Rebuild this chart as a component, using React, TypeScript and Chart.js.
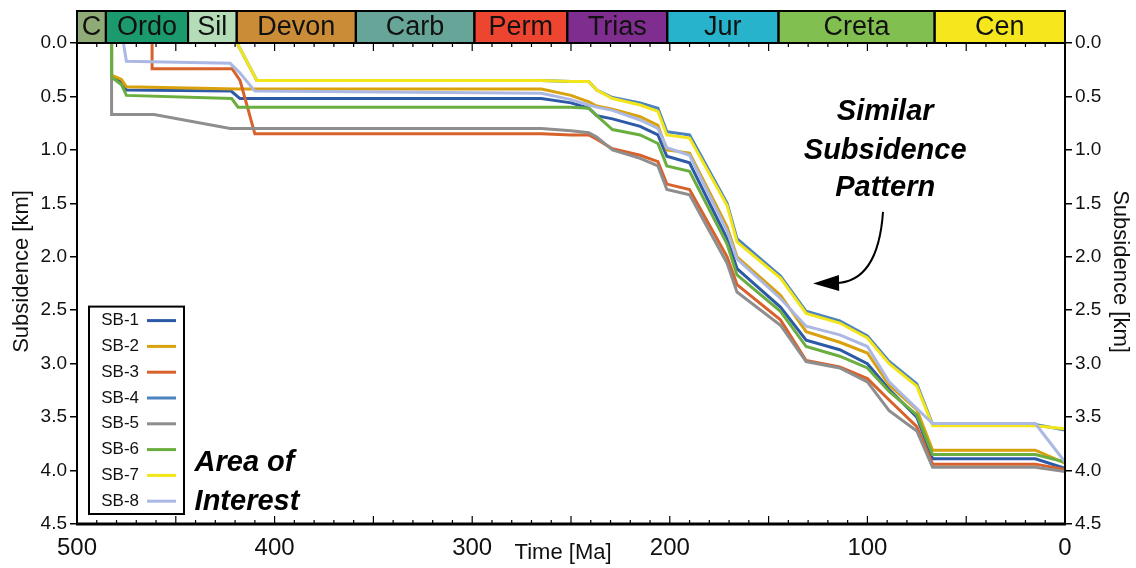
import React, { useEffect, useRef } from "react";
import { Chart, registerables } from "chart.js";

Chart.register(...registerables);

const FONT = "'Liberation Sans', Arial, Helvetica, sans-serif";

// ---- Data ----
const seriesNames = ["SB-1", "SB-2", "SB-3", "SB-4", "SB-5", "SB-6", "SB-7", "SB-8"];
const seriesColors = ["#2c5aa6", "#d9a20c", "#d8622b", "#4a83bf", "#8e8e8e", "#6aae3f", "#f2e51a", "#abb8e4"];

const lateAges = [265, 250, 241, 237, 229, 215, 206, 201.5, 190, 171, 166, 144, 131, 114, 100, 89, 75, 67, 15, 0];

const sb1Age = [482.5, 482.5, 477.5, 475, 422, 417.5, ...lateAges];
const sb1Depth = [0, 0.31, 0.36, 0.44, 0.45, 0.52, 0.52, 0.56, 0.61, 0.68, 0.71, 0.78, 0.86, 1.06, 1.12, 1.83, 2.11, 2.47, 2.78, 2.87, 3.0, 3.24, 3.5, 3.89, 3.89, 3.98];

const sb2Age = [482.5, 482.5, 477.5, 475, 419, ...lateAges];
const sb2Depth = [0, 0.3, 0.34, 0.41, 0.43, 0.43, 0.49, 0.55, 0.59, 0.62, 0.69, 0.77, 1.0, 1.03, 1.72, 2.0, 2.36, 2.7, 2.8, 2.9, 3.2, 3.43, 3.81, 3.81, 3.93];

const sb3Age = [462, 462, 421.5, 417.5, 410, ...lateAges];
const sb3Depth = [0, 0.24, 0.24, 0.35, 0.85, 0.85, 0.86, 0.86, 0.9, 0.99, 1.05, 1.11, 1.32, 1.37, 2.0, 2.26, 2.59, 2.97, 3.03, 3.14, 3.34, 3.59, 3.94, 3.94, 3.99];

const sb4Age = [419, 409, ...lateAges];
const sb4Depth = [0, 0.35, 0.35, 0.36, 0.36, 0.44, 0.51, 0.56, 0.61, 0.83, 0.86, 1.5, 1.83, 2.18, 2.51, 2.6, 2.74, 2.98, 3.19, 3.57, 3.57, 3.62];

const sb5Age = [482.5, 482.5, 461, 422.5, ...lateAges];
const sb5Depth = [0, 0.67, 0.67, 0.8, 0.8, 0.82, 0.84, 0.88, 1.0, 1.08, 1.15, 1.37, 1.42, 2.06, 2.33, 2.64, 2.98, 3.04, 3.17, 3.44, 3.63, 3.97, 3.97, 4.01];

const sb6Age = [482.5, 482.5, 477.5, 475, 421.7, 418.5, ...lateAges];
const sb6Depth = [0, 0.32, 0.39, 0.49, 0.52, 0.6, 0.6, 0.6, 0.61, 0.68, 0.81, 0.86, 0.94, 1.15, 1.2, 1.88, 2.17, 2.51, 2.84, 2.93, 3.04, 3.26, 3.48, 3.85, 3.85, 3.92];

const sb7Age = [419, 409, ...lateAges];
const sb7Depth = [0, 0.35, 0.35, 0.36, 0.36, 0.44, 0.52, 0.58, 0.64, 0.86, 0.89, 1.52, 1.86, 2.2, 2.53, 2.62, 2.76, 3.0, 3.21, 3.58, 3.58, 3.61];

const sb8Age = [476.5, 475, 422.5, 417.5, 410, ...lateAges];
const sb8Depth = [0, 0.17, 0.19, 0.28, 0.45, 0.47, 0.53, 0.58, 0.6, 0.63, 0.72, 0.8, 0.98, 1.05, 1.76, 2.02, 2.39, 2.65, 2.73, 2.84, 3.17, 3.42, 3.56, 3.56, 3.92];

const seriesAges = [sb1Age, sb2Age, sb3Age, sb4Age, sb5Age, sb6Age, sb7Age, sb8Age];
const seriesDepths = [sb1Depth, sb2Depth, sb3Depth, sb4Depth, sb5Depth, sb6Depth, sb7Depth, sb8Depth];

// Geologic periods
const periodNames = ["C", "Ordo", "Sil", "Devon", "Carb", "Perm", "Trias", "Jur", "Creta", "Cen"];
const periodStart = [500, 485.4, 443.8, 419.2, 358.9, 298.9, 251.9, 201.3, 145, 66];
const periodEnd = [485.4, 443.8, 419.2, 358.9, 298.9, 251.9, 201.3, 145, 66, 0];
const periodColors = ["#8fab76", "#1b9a6e", "#b4dcb7", "#cb8c38", "#67a599", "#ee4531", "#7f2d8f", "#26b3cb", "#80bf50", "#f6e61e"];

// Axis ranges / ticks
const xMin = 0;
const xMax = 500;
const yMin = 0;
const yMax = 4.5;

// Annotations (data coordinates)
const noteLines = ["Similar", "Subsidence", "Pattern"];
const noteAge = 91;
const noteDepths = [0.645, 1.01, 1.36];
const aoiLines = ["Area of", "Interest"];
const aoiAge = 440.5;
const aoiDepths = [3.93, 4.29];
const arrowStart = [92.1, 1.58];
const arrowCtrl = [94.6, 2.24];
const arrowTip = [127.5, 2.25];

const decorPlugin = {
  id: "decor",
  beforeDraw(chart: any) {
    const { ctx } = chart;
    ctx.save();
    ctx.fillStyle = "#ffffff";
    ctx.fillRect(0, 0, chart.width, chart.height);
    ctx.restore();
  },
  afterDatasetsDraw(chart: any) {
    const { ctx, chartArea: ca, scales } = chart;
    const xs = scales.x;
    const ys = scales.y;
    ctx.save();

    // Period bar
    const barTop = 11;
    for (let i = 0; i < periodNames.length; i++) {
      const x1 = xs.getPixelForValue(periodStart[i]);
      const x2 = xs.getPixelForValue(periodEnd[i]);
      ctx.fillStyle = periodColors[i];
      ctx.fillRect(x1, barTop, x2 - x1, ca.top - barTop);
    }
    ctx.strokeStyle = "#000";
    ctx.lineWidth = 2;
    for (let i = 0; i < periodNames.length; i++) {
      const x1 = xs.getPixelForValue(periodStart[i]);
      const x2 = xs.getPixelForValue(periodEnd[i]);
      ctx.strokeRect(x1, barTop, x2 - x1, ca.top - barTop);
      ctx.fillStyle = "#111";
      ctx.font = `27px ${FONT}`;
      ctx.textAlign = "center";
      ctx.textBaseline = "middle";
      ctx.fillText(periodNames[i], (x1 + x2) / 2, (barTop + ca.top) / 2 + 1);
    }

    // Frame
    ctx.strokeStyle = "#000";
    ctx.lineWidth = 2;
    ctx.beginPath();
    ctx.moveTo(ca.left, ca.top);
    ctx.lineTo(ca.left, ca.bottom);
    ctx.moveTo(ca.right, ca.top);
    ctx.lineTo(ca.right, ca.bottom);
    ctx.moveTo(ca.left, ca.top);
    ctx.lineTo(ca.right, ca.top);
    ctx.stroke();
    ctx.lineWidth = 3;
    ctx.beginPath();
    ctx.moveTo(ca.left - 1, ca.bottom);
    ctx.lineTo(ca.right + 1, ca.bottom);
    ctx.stroke();

    // Inward x ticks top and bottom
    ctx.lineWidth = 1.2;
    ctx.beginPath();
    for (let v = xMin; v <= xMax; v += 10) {
      const px = xs.getPixelForValue(v);
      const len = v % 50 === 0 ? 8 : 4;
      ctx.moveTo(px, ca.bottom);
      ctx.lineTo(px, ca.bottom - len);
      ctx.moveTo(px, ca.top);
      ctx.lineTo(px, ca.top + len);
    }
    ctx.stroke();

    // Axis titles
    ctx.fillStyle = "#111";
    ctx.font = `22px ${FONT}`;
    ctx.textAlign = "center";
    ctx.textBaseline = "middle";
    const cy = (ca.top + ca.bottom) / 2 - 12;
    ctx.save();
    ctx.translate(22, cy);
    ctx.rotate(-Math.PI / 2);
    ctx.fillText("Subsidence [km]", 0, 0);
    ctx.restore();
    ctx.save();
    ctx.translate(ca.right + 55, cy);
    ctx.rotate(Math.PI / 2);
    ctx.fillText("Subsidence [km]", 0, 0);
    ctx.restore();
    ctx.fillText("Time [Ma]", xs.getPixelForValue(254), ca.bottom + 29);

    // Legend
    const lx = ca.left + 12;
    const lw = 95;
    const rowH = 25.8;
    const lh = rowH * seriesNames.length + 1;
    const ly = ca.bottom - 10 - lh;
    ctx.fillStyle = "#fff";
    ctx.fillRect(lx, ly, lw, lh);
    ctx.strokeStyle = "#000";
    ctx.lineWidth = 2;
    ctx.strokeRect(lx, ly, lw, lh);
    ctx.font = `17px ${FONT}`;
    ctx.textAlign = "right";
    ctx.textBaseline = "middle";
    chart.data.datasets.forEach((ds: any, i: number) => {
      const ry = ly + 14 + i * rowH;
      ctx.fillStyle = "#111";
      ctx.fillText(ds.label, lx + 50, ry);
      ctx.strokeStyle = ds.borderColor;
      ctx.lineWidth = 3;
      ctx.beginPath();
      ctx.moveTo(lx + 58, ry);
      ctx.lineTo(lx + 87, ry);
      ctx.stroke();
    });

    // Annotations
    ctx.fillStyle = "#000";
    ctx.font = `italic bold 29px ${FONT}`;
    ctx.textAlign = "center";
    ctx.textBaseline = "middle";
    noteLines.forEach((t, i) => {
      ctx.fillText(t, xs.getPixelForValue(noteAge), ys.getPixelForValue(noteDepths[i]));
    });
    ctx.textAlign = "left";
    ctx.font = `italic bold 29px ${FONT}`;
    aoiLines.forEach((t, i) => {
      ctx.fillText(t, xs.getPixelForValue(aoiAge), ys.getPixelForValue(aoiDepths[i]));
    });

    // Arrow
    const p0x = xs.getPixelForValue(arrowStart[0]);
    const p0y = ys.getPixelForValue(arrowStart[1]);
    const pcx = xs.getPixelForValue(arrowCtrl[0]);
    const pcy = ys.getPixelForValue(arrowCtrl[1]);
    const ptx = xs.getPixelForValue(arrowTip[0]);
    const pty = ys.getPixelForValue(arrowTip[1]);
    const ang = Math.atan2(pty - pcy, ptx - pcx);
    const headLen = 26;
    const headHalf = 8;
    const bx = ptx - headLen * Math.cos(ang);
    const by = pty - headLen * Math.sin(ang);
    ctx.strokeStyle = "#000";
    ctx.lineWidth = 2;
    ctx.beginPath();
    ctx.moveTo(p0x, p0y);
    ctx.quadraticCurveTo(pcx, pcy, bx + 4 * Math.cos(ang), by + 4 * Math.sin(ang));
    ctx.stroke();
    ctx.fillStyle = "#000";
    ctx.beginPath();
    ctx.moveTo(ptx, pty);
    ctx.lineTo(bx + headHalf * Math.sin(ang), by - headHalf * Math.cos(ang));
    ctx.lineTo(bx - headHalf * Math.sin(ang), by + headHalf * Math.cos(ang));
    ctx.closePath();
    ctx.fill();

    ctx.restore();
  },
};

export default function App() {
  const canvasRef = useRef<HTMLCanvasElement | null>(null);

  useEffect(() => {
    if (!canvasRef.current) return;
    const datasets = seriesNames.map((name, i) => ({
      label: name,
      data: seriesAges[i].map((a, j) => ({ x: a, y: seriesDepths[i][j] })),
      borderColor: seriesColors[i],
      backgroundColor: seriesColors[i],
      borderWidth: 3,
      pointRadius: 0,
      tension: 0,
      fill: false,
      order: -i,
    }));

    const yTicks = {
      stepSize: 0.5,
      color: "#111",
      font: { size: 19, family: FONT },
      padding: 3,
      callback: (v: any) => Number(v).toFixed(1),
    };

    const chart = new Chart(canvasRef.current, {
      type: "line",
      data: { datasets },
      plugins: [decorPlugin],
      options: {
        responsive: true,
        maintainAspectRatio: false,
        animation: false,
        layout: { padding: { top: 43, left: 0, right: 0, bottom: 0 } },
        plugins: {
          legend: { display: false },
          tooltip: { enabled: false },
        },
        scales: {
          x: {
            type: "linear",
            position: "bottom",
            min: xMin,
            max: xMax,
            reverse: true,
            grid: { display: false, drawTicks: false },
            border: { display: false },
            ticks: {
              stepSize: 100,
              color: "#111",
              font: { size: 24, family: FONT },
              padding: 10,
              maxRotation: 0,
            },
            afterFit: (s: any) => {
              s.height = 44;
            },
          },
          y: {
            type: "linear",
            position: "left",
            min: yMin,
            max: yMax,
            reverse: true,
            grid: { drawOnChartArea: false, tickLength: 7, color: "#000", lineWidth: 1.5 },
            border: { display: false },
            ticks: yTicks,
            afterFit: (s: any) => {
              s.width = 77;
            },
          },
          y2: {
            type: "linear",
            position: "right",
            min: yMin,
            max: yMax,
            reverse: true,
            grid: { drawOnChartArea: false, tickLength: 7, color: "#000", lineWidth: 1.5 },
            border: { display: false },
            ticks: yTicks,
            afterFit: (s: any) => {
              s.width = 71;
            },
          },
        },
      } as any,
    });
    return () => chart.destroy();
  }, []);

  return (
    <div style={{ position: "fixed", left: 0, top: 0, width: "1136px", height: "568px", background: "#fff" }}>
      <canvas ref={canvasRef} />
    </div>
  );
}
